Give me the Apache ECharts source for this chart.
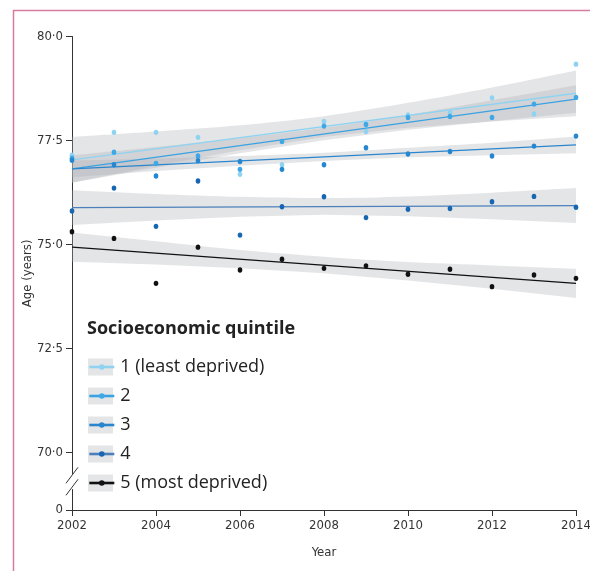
<!DOCTYPE html>
<html><head><meta charset="utf-8">
<style>html,body{margin:0;padding:0;background:#fff}#c{width:590px;height:571px}</style>
<script src="https://cdn.jsdelivr.net/npm/echarts@6/dist/echarts.min.js"></script>
</head><body><div id="c"></div>
<script>
// ---- data ----
const years = ['2002','2003','2004','2005','2006','2007','2008','2009','2010','2011','2012','2013','2014'];
const bandYears = ['2002','2004','2006','2008','2010','2012','2014'];
const fitYears = ['2002','2014'];
const yTickValues = [0, 70, 72.5, 75, 77.5, 80];
const yTickLabels = ['0', '70·0', '72·5', '75·0', '77·5', '80·0'];
const quintiles = ['1 (least deprived)', '2', '3', '4', '5 (most deprived)'];

const q1Points = [77.15, 77.70, 77.70, 77.58, 76.69, 76.92, 77.96, 77.72, 78.12, 78.18, 78.53, 78.14, 79.34];
const q2Points = [77.08, 77.22, 76.95, 77.13, 76.81, 77.48, 77.85, 77.89, 78.06, 78.08, 78.06, 78.38, 78.54];
const q3Points = [77.03, 76.92, 76.65, 77.02, 77.00, 76.81, 76.92, 77.33, 77.18, 77.24, 77.13, 77.37, 77.61];
const q4Points = [75.81, 76.36, 75.44, 76.53, 75.23, 75.91, 76.15, 75.65, 75.85, 75.87, 76.03, 76.16, 75.90];
const q5Points = [75.31, 75.15, 74.07, 74.94, 74.39, 74.65, 74.43, 74.49, 74.29, 74.41, 73.99, 74.27, 74.19];

const q1Fit = [77.04, 78.64];
const q2Fit = [76.82, 78.50];
const q3Fit = [76.82, 77.40];
const q4Fit = [75.89, 75.94];
const q5Fit = [74.94, 74.07];

const q1Lower = [76.49, 76.90, 77.27, 77.59, 77.81, 77.96, 78.09];
const q1Upper = [77.59, 77.72, 77.87, 78.09, 78.41, 78.78, 79.19];
const q2Lower = [76.49, 76.85, 77.20, 77.51, 77.76, 77.97, 78.17];
const q2Upper = [77.15, 77.35, 77.56, 77.81, 78.12, 78.47, 78.83];
const q3Lower = [76.62, 76.77, 76.90, 77.01, 77.10, 77.15, 77.20];
const q3Upper = [77.02, 77.07, 77.13, 77.21, 77.33, 77.45, 77.60];
const q4Lower = [75.47, 75.58, 75.67, 75.72, 75.68, 75.61, 75.52];
const q4Upper = [76.31, 76.22, 76.15, 76.12, 76.16, 76.25, 76.36];
const q5Lower = [74.59, 74.52, 74.43, 74.31, 74.14, 73.94, 73.72];
const q5Upper = [75.29, 75.08, 74.87, 74.71, 74.58, 74.50, 74.42];

// ---- styles ----
const pointColors = ['#8fd3f1', '#3ea8e6', '#2687d1', '#1766b1', '#111111'];
const lineColors  = ['#8fd3f1', '#3aa2e2', '#2a85cd', '#4b80bb', '#111111'];
const axisFont = "'Liberation Sans Narrow','DejaVu Sans Condensed','Lato',sans-serif";
const bandFill = 'rgba(172,175,180,0.32)';

const points = [q1Points, q2Points, q3Points, q4Points, q5Points];
const fits = [q1Fit, q2Fit, q3Fit, q4Fit, q5Fit];
const lowers = [q1Lower, q2Lower, q3Lower, q4Lower, q5Lower];
const uppers = [q1Upper, q2Upper, q3Upper, q4Upper, q5Upper];

const series = [];
// fitted lines first (legend icons come from these)
quintiles.forEach((name, i) => {
  series.push({
    name, type: 'line', z: 3, symbol: 'none', silent: true,
    color: pointColors[i],
    lineStyle: { color: lineColors[i], width: 1.3 },
    data: fitYears.map((y, k) => [y, fits[i][k]])
  });
});
// confidence bands
quintiles.forEach((name, i) => {
  series.push({
    name: 'band' + i + 'lo', type: 'line', stack: 'band' + i, z: 1, symbol: 'none', silent: true,
    lineStyle: { opacity: 0 },
    data: bandYears.map((y, k) => [y, lowers[i][k]])
  });
  series.push({
    name: 'band' + i + 'hi', type: 'line', stack: 'band' + i, z: 1, symbol: 'none', silent: true,
    smooth: 0.3,
    lineStyle: { opacity: 0 },
    areaStyle: { color: bandFill, opacity: 1 },
    data: bandYears.map((y, k) => [y, uppers[i][k] - lowers[i][k]])
  });
});
// observed points
quintiles.forEach((name, i) => {
  series.push({
    name, type: 'scatter', z: 4, symbol: 'circle', symbolSize: [4.6, 5.4], silent: true,
    itemStyle: { color: pointColors[i], opacity: 1 },
    data: years.map((y, k) => [y, points[i][k]])
  });
});

const chart = echarts.init(document.getElementById('c'), null, { renderer: 'canvas' });
const legendTop = 357, rowPitch = 29;

const graphics = [
  { id: 'borderTop', type: 'line', shape: { x1: 13, y1: 10.5, x2: 590, y2: 10.5 }, style: { stroke: '#d77b9f', lineWidth: 1.5 }, z: 0 },
  { id: 'borderLeft', type: 'line', shape: { x1: 13.5, y1: 10, x2: 13.5, y2: 571 }, style: { stroke: '#d77b9f', lineWidth: 1.5 }, z: 0 }
];
quintiles.forEach((n, i) => {
  graphics.push({ id: 'lgbox' + i, type: 'rect', z: 0,
    shape: { x: 88, y: legendTop + 10 + i * rowPitch - 8.5, width: 25, height: 17 },
    style: { fill: '#e4e5e6' } });
});

chart.setOption({
  animation: false,
  backgroundColor: '#fff',
  title: {
    text: 'Socioeconomic quintile', left: 87, top: 320, padding: 0,
    textStyle: { fontFamily: "'Open Sans',sans-serif", fontWeight: 'bold', fontSize: 18, color: '#222' }
  },
  legend: {
    orient: 'vertical', left: 88, top: legendTop, padding: 0, itemGap: 9,
    itemWidth: 25, itemHeight: 7, selectedMode: false, data: quintiles,
    textStyle: { fontFamily: "'Open Sans',sans-serif", fontSize: 18, color: '#222', lineHeight: 20, padding: [0, 0, 0, 1] },
    lineStyle: { width: 2.6 }
  },
  grid: { left: 72, right: 14, top: 36.7, bottom: 61, containLabel: false, outerBoundsMode: 'none' },
  xAxis: {
    type: 'category', data: years, boundaryGap: false,
    axisLine: { show: true, onZero: false, lineStyle: { color: '#333', width: 1 } },
    axisTick: { show: true, interval: 1, length: 6, lineStyle: { color: '#333' } },
    axisLabel: { interval: 1, margin: 9, color: '#333', fontSize: 13, fontFamily: axisFont },
    splitLine: { show: false },
    name: 'Year', nameLocation: 'middle', nameGap: 36, nameMoveOverlap: false,
    nameTextStyle: { color: '#333', fontSize: 13, fontFamily: axisFont }
  },
  yAxis: {
    type: 'value', min: 0, max: 80,
    breaks: [{ start: 0.5, end: 69.5, gap: 0.38 }],
    breakArea: { show: false },
    axisLine: { show: true, lineStyle: { color: '#333', width: 1 } },
    axisTick: { show: true, length: 6, customValues: yTickValues, lineStyle: { color: '#333' } },
    axisLabel: {
      customValues: yTickValues, margin: 9, color: '#333', fontSize: 13, fontFamily: axisFont,
      formatter: v => { const k = yTickValues.indexOf(v); return k >= 0 ? yTickLabels[k] : ''; }
    },
    splitLine: { show: false },
    name: 'Age (years)', nameLocation: 'middle', nameGap: 38, nameMoveOverlap: false,
    nameTextStyle: { color: '#333', fontSize: 13, fontFamily: axisFont }
  },
  graphic: { elements: graphics },
  series
});

// axis-break slashes at the middle of the broken span
const yA = chart.convertToPixel({ yAxisIndex: 0 }, 0);
const yB = chart.convertToPixel({ yAxisIndex: 0 }, 70);
const xA = chart.convertToPixel({ xAxisIndex: 0 }, '2002');
const mid = (yA + yB) / 2;
chart.setOption({
  graphic: { elements: [
    { id: 'slash1', type: 'line', z: 10, shape: { x1: xA - 6, y1: mid - 6 + 8, x2: xA + 6, y2: mid - 6 - 8 }, style: { stroke: '#333', lineWidth: 1 } },
    { id: 'slash2', type: 'line', z: 10, shape: { x1: xA - 6, y1: mid + 6 + 8, x2: xA + 6, y2: mid + 6 - 8 }, style: { stroke: '#333', lineWidth: 1 } }
  ] }
});
</script></body></html>
